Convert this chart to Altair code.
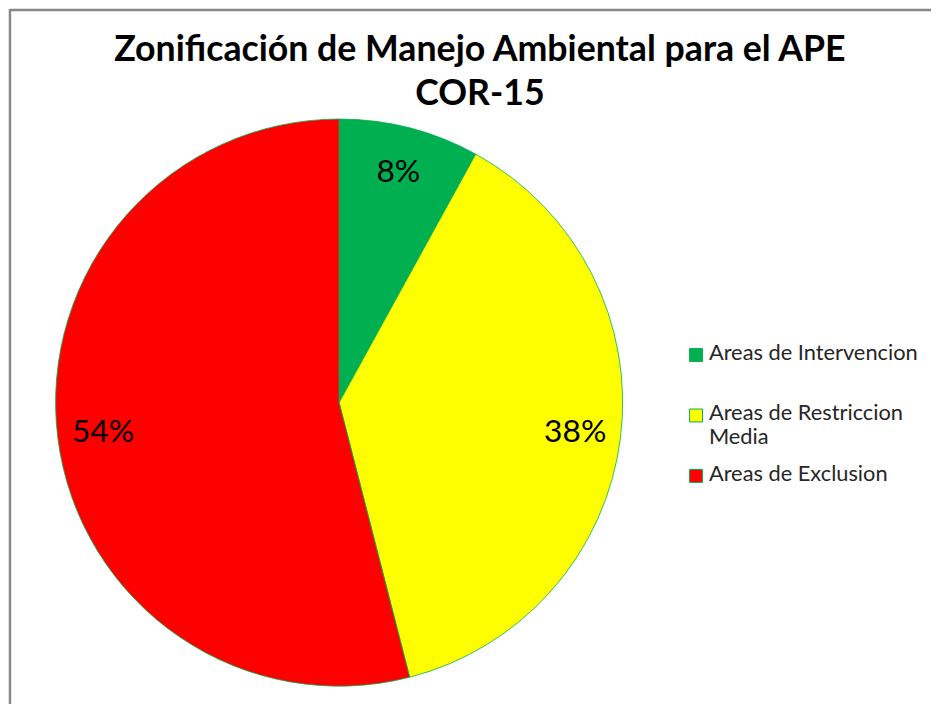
import altair as alt
import pandas as pd

categories = ["Areas de Intervencion", "Areas de Restriccion Media", "Areas de Exclusion"]
legend_labels = ["Areas de Intervencion", "Areas de Restriccion\nMedia", "Areas de Exclusion"]
values = [8, 38, 54]
pct_labels = ["8%", "38%", "54%"]
colors = ["#00B050", "#FFFF00", "#FF0000"]
title_lines = ["Zonificación de Manejo Ambiental para el APE", "COR-15"]

df = pd.DataFrame({
    "cat": legend_labels,
    "value": values,
    "label": pct_labels,
    "ord": list(range(len(values))),
})

FONT = "Lato"
CX, CY, R = 334, 395, 286

color_scale = alt.Scale(domain=legend_labels, range=colors)

arcs = alt.Chart(df).mark_arc(stroke="#00B050", strokeWidth=0.8).encode(
    theta=alt.Theta("value:Q", stack=True),
    color=alt.Color("cat:N", scale=color_scale, sort=legend_labels, legend=None),
    order=alt.Order("ord:Q"),
    x=alt.value(CX),
    y=alt.value(CY),
    radius=alt.value(R),
)

texts = alt.Chart(df).mark_text(font=FONT, fontSize=32, color="#000000").encode(
    theta=alt.Theta("value:Q", stack=True),
    order=alt.Order("ord:Q"),
    text="label:N",
    x=alt.value(CX),
    y=alt.value(CY),
    radius=alt.value(240),
)

# legend built from the same categories
leg_y = alt.Y("ord:Q", scale=alt.Scale(domain=[0, 2], range=[347, 469]), axis=None)
leg_sq = alt.Chart(df).mark_point(
    shape="square", size=169, filled=True, opacity=1,
    stroke="#00B050", strokeWidth=1,
).encode(
    x=alt.value(694),
    y=leg_y,
    fill=alt.Color("cat:N", scale=color_scale, legend=None),
)
leg_txt = alt.Chart(df).transform_calculate(
    lines="split(datum.cat, '\\n')"
).mark_text(
    font=FONT, fontSize=22, color="#262626", align="left",
    baseline="top", lineHeight=24, dy=-12,
).encode(
    x=alt.value(707),
    y=leg_y,
    text="lines:N",
)

title_df = pd.DataFrame({"t": [title_lines]})
title = alt.Chart(title_df).mark_text(
    font=FONT, fontSize=36, fontWeight="bold", color="#000000",
    baseline="alphabetic", align="center", lineHeight=45,
).encode(
    text="t",
    x=alt.value(476),
    y=alt.value(50),
)

border_df = pd.DataFrame({"k": [0]})
left_border = alt.Chart(border_df).mark_rule(color="#888888", strokeWidth=2.5).encode(
    x=alt.value(2), y=alt.value(-2), y2=alt.value(700)
)
top_border = alt.Chart(border_df).mark_rule(color="#888888", strokeWidth=2.5).encode(
    x=alt.value(2), x2=alt.value(935), y=alt.value(-1)
)

chart = alt.layer(left_border, top_border, arcs, texts, leg_sq, leg_txt, title).properties(
    width=931,
    height=696,
    autosize=alt.AutoSizeParams(type="none"),
    padding=0,
    background="white",
).configure_view(stroke=None)

chart.save("out.html", embed_options={"renderer": "svg", "actions": False})
